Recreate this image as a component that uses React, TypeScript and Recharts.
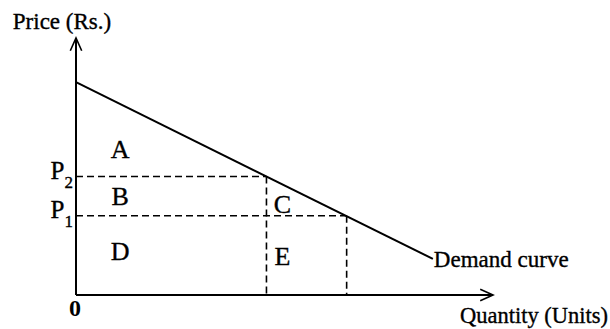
import React from 'react';
import { LineChart, Line, XAxis, YAxis, ReferenceLine, ReferenceDot } from 'recharts';

// demand curve end points (quantity, price) in chart units
const demandQuantity = [0, 89];
const demandPrice = [53, 9];

// the two price levels and the quantities demanded at them
const priceNames = ['2', '1'];
const prices = [29.5, 19.75];
const quantities = [47.5, 67.5];

// area labels inside the diagram
const areaNames = ['A', 'B', 'C', 'D', 'E'];
const areaQ = [11, 11, 51.5, 11, 51.5];
const areaP = [34, 22.3, 20.5, 8.8, 7.5];

const Q_MAX = 104;
const P_MAX = 64;

const chartData = demandQuantity.map((q, i) => ({ q, p: demandPrice[i] }));

const FONT = '"Liberation Serif", "DejaVu Serif", serif';
// the scan makes every glyph a little heavier
const INK = { fill: '#000', stroke: '#000', strokeWidth: 0.35 };

function Arrow(props: any) {
  const { x1, y1, x2, y2 } = props;
  const ang = Math.atan2(y2 - y1, x2 - x1);
  const len = 14;
  const spread = 0.42;
  const ax = x2 - len * Math.cos(ang - spread);
  const ay = y2 - len * Math.sin(ang - spread);
  const bx = x2 - len * Math.cos(ang + spread);
  const by = y2 - len * Math.sin(ang + spread);
  return (
    <g>
      <line x1={x1} y1={y1} x2={x2} y2={y2} stroke="#000" strokeWidth={2} />
      <polyline points={`${ax},${ay} ${x2},${y2} ${bx},${by}`} fill="none" stroke="#000" strokeWidth={1.6} />
    </g>
  );
}

function PriceTick(props: any) {
  const { y, payload } = props;
  const idx = prices.indexOf(payload.value);
  return (
    <text x={73} y={y + 2} textAnchor="end" fontFamily={FONT} fontSize={25} {...INK}>
      P<tspan dy={9} fontSize={17}>{priceNames[idx]}</tspan>
    </text>
  );
}

function ZeroTick(props: any) {
  const { x, y } = props;
  return (
    <text x={x - 1} y={y + 13} textAnchor="middle" fontFamily={FONT} fontSize={24} fontWeight="bold" fill="#000">
      0
    </text>
  );
}

export default function App() {
  return (
    <div style={{ position: 'absolute', left: 0, top: 0, width: 610, height: 329, background: '#fff' }}>
      <LineChart width={610} height={329} data={chartData} margin={{ top: 38, right: 117, bottom: 0, left: 0 }}>
        <XAxis
          type="number"
          dataKey="q"
          domain={[0, Q_MAX]}
          ticks={[0]}
          tick={<ZeroTick />}
          tickLine={false}
          axisLine={false}
          height={34}
        />
        <YAxis
          type="number"
          domain={[0, P_MAX]}
          ticks={prices}
          tick={<PriceTick />}
          tickLine={false}
          axisLine={false}
          width={76}
        />

        {prices.map((p, i) => (
          <ReferenceLine
            key={`h${i}`}
            segment={[{ x: 0, y: p }, { x: quantities[i], y: p }]}
            stroke="#000"
            strokeWidth={1.6}
            strokeDasharray="7 4"
            ifOverflow="visible"
          />
        ))}
        {prices.map((p, i) => (
          <ReferenceLine
            key={`v${i}`}
            segment={[{ x: quantities[i], y: p }, { x: quantities[i], y: 0 }]}
            stroke="#000"
            strokeWidth={1.6}
            strokeDasharray="7 4"
            ifOverflow="visible"
          />
        ))}

        <ReferenceLine segment={[{ x: 0, y: 0 }, { x: Q_MAX, y: 0 }]} ifOverflow="visible" shape={<Arrow />} />
        <ReferenceLine segment={[{ x: 0, y: 0 }, { x: 0, y: P_MAX }]} ifOverflow="visible" shape={<Arrow />} />

        <Line
          type="linear"
          dataKey="p"
          stroke="#000"
          strokeWidth={2}
          dot={false}
          isAnimationActive={false}
        />

        {areaNames.map((name, i) => (
          <ReferenceDot
            key={name}
            x={areaQ[i]}
            y={areaP[i]}
            ifOverflow="visible"
            shape={(p: any) => (
              <text x={p.cx} y={p.cy} textAnchor="middle" fontFamily={FONT} fontSize={26} {...INK}>
                {name}
              </text>
            )}
          />
        ))}

        <ReferenceDot
          x={demandQuantity[1]}
          y={demandPrice[1]}
          ifOverflow="visible"
          shape={(p: any) => (
            <text x={p.cx + 1} y={p.cy + 8} fontFamily={FONT} fontSize={23} {...INK}>
              Demand curve
            </text>
          )}
        />
        <ReferenceDot
          x={Q_MAX}
          y={0}
          ifOverflow="visible"
          shape={(p: any) => (
            <text x={p.cx + 115} y={p.cy + 28} textAnchor="end" fontFamily={FONT} fontSize={22.5} {...INK}>
              Quantity (Units)
            </text>
          )}
        />
        <ReferenceDot
          x={0}
          y={P_MAX}
          ifOverflow="visible"
          shape={(p: any) => (
            <text x={p.cx - 14} y={p.cy - 9} textAnchor="middle" fontFamily={FONT} fontSize={23} {...INK}>
              Price (Rs.)
            </text>
          )}
        />
      </LineChart>
    </div>
  );
}
